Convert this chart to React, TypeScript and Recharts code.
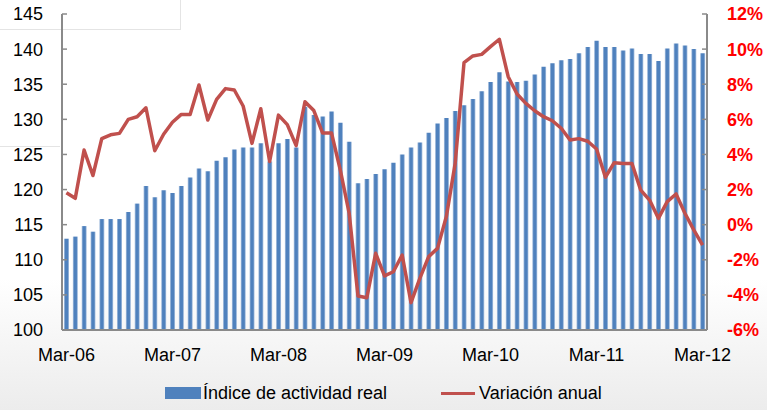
import React from "react";
import {
  ComposedChart,
  Bar,
  Line,
  XAxis,
  YAxis,
} from "recharts";

// monthly series, Mar-06 .. Mar-12
const monthNames = ["Ene", "Feb", "Mar", "Abr", "May", "Jun", "Jul", "Ago", "Sep", "Oct", "Nov", "Dic"];
const startYear = 2006;
const startMonth = 2; // Mar

const indiceActividad = [
  113.0, 113.3, 114.8, 114.0, 115.8, 115.8, 115.8, 116.8, 118.0, 120.5,
  118.9, 119.9, 119.5, 120.5, 121.7, 123.0, 122.6, 124.1, 124.6, 125.7,
  126.0, 126.0, 126.6, 124.0, 126.6, 127.2, 126.0, 131.8, 130.6, 130.4,
  131.1, 129.5, 126.8, 120.9, 121.5, 122.2, 122.9, 123.8, 125.0, 126.0,
  126.7, 128.1, 129.4, 130.2, 131.2, 132.0, 132.9, 134.0, 135.3, 136.7,
  135.4, 135.3, 135.5, 136.4, 137.5, 138.0, 138.4, 138.6, 139.4, 140.3,
  141.2, 140.3, 140.3, 139.8, 140.1, 139.3, 139.3, 138.3, 140.1, 140.8,
  140.5, 140.0, 139.4,
];

const variacionAnual = [
  1.82, 1.5, 4.25, 2.8, 4.9, 5.12, 5.2, 6.0, 6.15, 6.66,
  4.21, 5.15, 5.83, 6.28, 6.28, 7.96, 5.96, 7.14, 7.75, 7.67,
  6.76, 4.63, 6.6, 3.6, 6.24, 5.7, 4.5, 7.0, 6.5, 5.22,
  5.22, 3.11, 0.65, -4.06, -4.16, -1.63, -2.92, -2.68, -1.73, -4.44,
  -3.06, -1.82, -1.35, 0.46, 3.49, 9.23, 9.61, 9.7, 10.14, 10.56,
  8.43, 7.44, 6.91, 6.49, 6.15, 5.92, 5.49, 4.82, 4.9, 4.75,
  4.31, 2.7, 3.53, 3.49, 3.49, 1.97, 1.4, 0.36, 1.31, 1.75,
  0.65, -0.3, -1.16,
];

const leftTicks = [100, 105, 110, 115, 120, 125, 130, 135, 140, 145];
const rightTicks = [-6, -4, -2, 0, 2, 4, 6, 8, 10, 12];

const categories = indiceActividad.map((_, i) => {
  const m = startMonth + i;
  const y = startYear + Math.floor(m / 12);
  return monthNames[m % 12] + "-" + String(y).slice(2);
});

const data = categories.map((mes, i) => ({
  mes,
  indice: indiceActividad[i],
  variacion: variacionAnual[i],
}));

const FONT = "'Liberation Sans', Arial, sans-serif";
const AXIS_GRAY = "#8a8a8a";

export default function App() {
  return (
    <div
      style={{
        position: "absolute",
        left: 0,
        top: 0,
        width: 767,
        height: 410,
        overflow: "hidden",
        fontFamily: FONT,
        background: "linear-gradient(to bottom, #ffffff 0%, #ffffff 68%, #ececec 100%)",
      }}
    >
      {/* faint leftover boxes behind the chart */}
      <div style={{ position: "absolute", left: 0, top: 0, width: 180, height: 29, borderRight: "1px solid #e4e4e4", borderBottom: "1px solid #e4e4e4" }} />
      <div style={{ position: "absolute", left: 0, top: 146, width: 60, height: 1, background: "#e4e4e4" }} />

      <ComposedChart
        width={767}
        height={410}
        data={data}
        margin={{ top: 14, right: 0, left: 0, bottom: 40 }}
        style={{ position: "absolute", left: 0, top: 0 }}
      >
        <defs>
          <linearGradient id="barGrad" x1="0" y1="0" x2="1" y2="0">
            <stop offset="0%" stopColor="#b3c8e3" />
            <stop offset="28%" stopColor="#4f81bd" />
            <stop offset="72%" stopColor="#4f81bd" />
            <stop offset="100%" stopColor="#b3c8e3" />
          </linearGradient>
        </defs>
        <XAxis
          dataKey="mes"
          interval={11}
          height={40}
          tickLine={false}
          tickSize={0}
          tickMargin={18}
          axisLine={{ stroke: AXIS_GRAY, strokeWidth: 2 }}
          tick={{ fill: "#000", fontSize: 18, fontFamily: FONT }}
        />
        <YAxis
          yAxisId="left"
          orientation="left"
          width={62}
          domain={[100, 145]}
          ticks={leftTicks}
          interval={0}
          tickSize={-5}
          tickMargin={24}
          allowDataOverflow
          axisLine={{ stroke: AXIS_GRAY, strokeWidth: 2 }}
          tickLine={{ stroke: AXIS_GRAY, strokeWidth: 1.5 }}
          tick={{ fill: "#000", fontSize: 18, fontFamily: FONT }}
        />
        <YAxis
          yAxisId="right"
          orientation="right"
          width={60}
          domain={[-6, 12]}
          ticks={rightTicks}
          interval={0}
          tickSize={-5}
          tickMargin={25}
          allowDataOverflow
          tickFormatter={(v: number) => `${v}%`}
          axisLine={{ stroke: AXIS_GRAY, strokeWidth: 2 }}
          tickLine={{ stroke: AXIS_GRAY, strokeWidth: 1.5 }}
          tick={{ fill: "#ff0000", fontSize: 18, fontWeight: "bold", fontFamily: FONT }}
        />
        <Bar
          yAxisId="left"
          dataKey="indice"
          name="Índice de actividad real"
          fill="url(#barGrad)"
          barSize={5}
          isAnimationActive={false}
        />
        <Line
          yAxisId="right"
          type="linear"
          dataKey="variacion"
          name="Variación anual"
          stroke="#c0504d"
          strokeWidth={3.5}
          strokeLinejoin="round"
          dot={false}
          activeDot={false}
          isAnimationActive={false}
        />
      </ComposedChart>

      {/* legend */}
      <div style={{ position: "absolute", left: 165, top: 387, width: 36, height: 12, background: "#4f81bd" }} />
      <div style={{ position: "absolute", left: 203, top: 383, fontSize: 18, lineHeight: "20px", color: "#000", whiteSpace: "nowrap" }}>
        Índice de actividad real
      </div>
      <div style={{ position: "absolute", left: 441, top: 392, width: 34, height: 3, background: "#c0504d" }} />
      <div style={{ position: "absolute", left: 479, top: 383, fontSize: 18, lineHeight: "20px", color: "#000", whiteSpace: "nowrap" }}>
        Variación anual
      </div>
    </div>
  );
}
